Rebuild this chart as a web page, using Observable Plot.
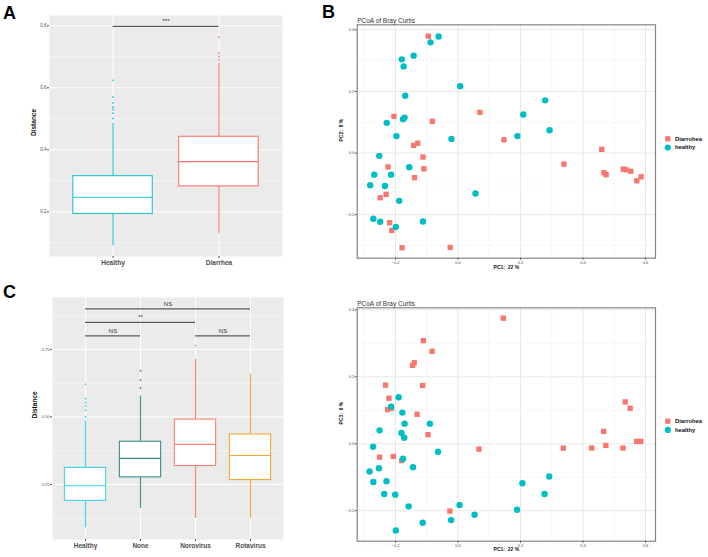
<!DOCTYPE html>
<html>
<head>
<meta charset="utf-8">
<script src="https://cdn.jsdelivr.net/npm/d3@7"></script>
<script src="https://cdn.jsdelivr.net/npm/@observablehq/plot@0.6"></script>
<style>
  html, body { margin: 0; padding: 0; background: #fff; }
  #fig { position: relative; width: 708px; height: 557px; background: #fff; overflow: hidden; font-family: "Liberation Sans", Arial, sans-serif; }
  .panel { position: absolute; }
  .tag { position: absolute; font-size: 18px; line-height: 18px; font-weight: bold; color: #000; }
</style>
</head>
<body>
<div id="fig">
  <div class="panel" id="pA" style="left:0;top:0"></div>
  <div class="panel" id="pB" style="left:330px;top:0"></div>
  <div class="panel" id="pC" style="left:0;top:280px"></div>
  <div class="panel" id="pD" style="left:330px;top:280px"></div>
  <div class="tag" style="left:3px;top:4px">A</div>
  <div class="tag" style="left:322px;top:3px">B</div>
  <div class="tag" style="left:3px;top:283px">C</div>
</div>
<script>
// ---------- Panel A : distance boxplots ----------
const aCategories = ["Healthy", "Diarrhea"];
const aColors = ["#1FC3CC", "#F8766D"];
const aLowerWhisker = [0.091, 0.129];
const aQ1 = [0.193, 0.282];
const aMedian = [0.247, 0.362];
const aQ3 = [0.315, 0.442];
const aUpperWhisker = [0.486, 0.679];
const aOutliersHealthy = [0.501, 0.518, 0.530, 0.538, 0.551, 0.570, 0.624];
const aOutliersDiarrhea = [0.690, 0.701, 0.712, 0.763];
const aYTicks = [0.2, 0.4, 0.6, 0.8];
const aYMinor = [0.1, 0.3, 0.5, 0.7];
const aYDomain = [0.056, 0.833];
const aBracketFrom = ["Healthy"];
const aBracketTo = ["Diarrhea"];
const aBracketLevel = [0.798];
const aBracketLabel = ["***"];

// ---------- Panel C : distance boxplots by virus ----------
const cCategories = ["Healthy", "None", "Norovirus", "Rotavirus"];
const cColors = ["#3CD2F5", "#3A8E8E", "#F7807A", "#F5A833"];
const cLowerWhisker = [0.089, 0.161, 0.124, 0.124];
const cQ1 = [0.189, 0.276, 0.318, 0.266];
const cMedian = [0.245, 0.346, 0.398, 0.357];
const cQ3 = [0.311, 0.408, 0.490, 0.435];
const cUpperWhisker = [0.485, 0.577, 0.713, 0.658];
const cOutliersHealthy = [0.500, 0.525, 0.540, 0.553, 0.568, 0.621];
const cOutliersNone = [0.607, 0.636, 0.671];
const cOutliersNorovirus = [0.764];
const cOutliersRotavirus = [];
const cYTicks = [0.25, 0.50, 0.75];
const cYMinor = [0.125, 0.375, 0.625, 0.875];
const cYDomain = [0.046, 0.942];
const cBracketFrom = ["Healthy", "Healthy", "Healthy", "Norovirus"];
const cBracketTo = ["Rotavirus", "Norovirus", "None", "Rotavirus"];
const cBracketLevel = [0.9, 0.85, 0.8, 0.8];
const cBracketLabel = ["NS", "**", "NS", "NS"];

// ---------- Panel B : PCoA PC1 vs PC2 ----------
const bDiarrheaPC1 = [-0.095,-0.205,-0.082,0.070,0.147,-0.142,-0.129,-0.112,-0.224,-0.109,-0.139,-0.230,-0.249,-0.219,-0.212,-0.179,-0.025,0.460,0.339,0.467,0.474,0.529,0.537,0.553,0.572,0.586];
const bDiarrheaPC2 = [0.379,0.119,0.103,0.132,0.043,0.025,0.032,-0.013,-0.045,-0.051,-0.080,-0.134,-0.145,-0.226,-0.251,-0.307,-0.306,0.012,-0.036,-0.064,-0.070,-0.052,-0.054,-0.059,-0.090,-0.077];
const bHealthyPC1 = [-0.062,-0.088,-0.142,-0.180,-0.174,0.007,-0.169,-0.171,-0.176,-0.228,-0.197,-0.021,-0.252,-0.156,-0.268,-0.214,-0.281,-0.234,-0.188,-0.271,-0.249,-0.199,-0.112,0.056,0.279,0.209,0.190,0.293];
const bHealthyPC2 = [0.378,0.359,0.316,0.304,0.281,0.217,0.186,0.115,0.110,0.098,0.055,0.046,-0.009,-0.046,-0.070,-0.070,-0.104,-0.107,-0.155,-0.213,-0.223,-0.240,-0.222,-0.131,0.171,0.125,0.055,0.074];
const bXDomain = [-0.3226, 0.632];
const bYDomain = [-0.341, 0.416];

// ---------- Panel D : PCoA PC1 vs PC3 ----------
const dDiarrheaPC1 = [0.145,-0.111,-0.083,-0.145,-0.140,-0.113,-0.232,-0.221,-0.225,-0.213,-0.131,-0.096,0.067,-0.251,-0.207,-0.180,-0.026,0.337,0.428,0.466,0.473,0.528,0.535,0.551,0.572,0.585];
const dDiarrheaPC3 = [0.375,0.308,0.276,0.234,0.242,0.174,0.175,0.136,0.102,0.106,0.088,0.027,-0.016,-0.040,-0.038,-0.050,-0.201,-0.013,-0.013,0.037,-0.005,-0.013,0.125,0.106,0.007,0.007];
const dHealthyPC1 = [-0.190,-0.214,-0.178,-0.171,-0.181,-0.172,-0.251,-0.272,-0.176,-0.144,-0.253,-0.283,-0.271,-0.229,-0.236,-0.201,-0.158,-0.199,-0.113,-0.022,0.005,0.053,-0.090,-0.064,0.189,0.206,0.277,0.292];
const dHealthyPC3 = [0.139,0.111,0.093,0.060,0.032,0.018,0.040,-0.009,-0.045,-0.070,-0.073,-0.083,-0.114,-0.112,-0.150,-0.152,-0.187,-0.259,-0.236,-0.228,-0.183,-0.212,0.060,-0.024,-0.197,-0.118,-0.150,-0.098];
const dXDomain = [-0.3226, 0.632];
const dYDomain = [-0.291, 0.406];

const pcoaXTicks = [-0.2, 0.0, 0.2, 0.4, 0.6];
const pcoaXMinor = [-0.3, -0.1, 0.1, 0.3, 0.5];
const pcoaYTicks = [-0.2, 0.0, 0.2, 0.4];
const pcoaYMinor = [-0.3, -0.1, 0.1, 0.3];
const groupLabels = ["Diarrohea", "healthy"];
const groupColors = ["#F8766D", "#00BFC4"];

const FONT = "Liberation Sans, Arial, Helvetica, sans-serif";
const fmt = d3.format(".1f");
const fmt2 = d3.format(".2f");

function boxPanel(o) {
  const n = o.cats.length;
  const half = 0.375;
  const boxes = o.cats.map((c, i) => ({pos: i + 1, lo: o.lo[i], q1: o.q1[i], med: o.med[i], q3: o.q3[i], hi: o.hi[i], color: o.colors[i]}));
  const outs = o.outliers.flatMap((arr, i) => arr.map(v => ({pos: i + 1, v, color: o.colors[i]})));
  const idx = c => o.cats.indexOf(c) + 1;
  const brackets = o.bFrom.map((f, i) => ({x1: idx(f), x2: idx(o.bTo[i]), y: o.bLevel[i], label: o.bLabel[i]}));
  return Plot.plot({
    width: o.width, height: o.height,
    marginLeft: o.ml, marginRight: o.mr, marginTop: o.mt, marginBottom: o.mb,
    style: {fontFamily: FONT, background: "transparent", overflow: "visible"},
    x: {domain: [0.4, n + 0.6], axis: null},
    y: {domain: o.yDomain, axis: null},
    color: {type: "identity"},
    marks: [
      Plot.frame({fill: "#EBEBEB", stroke: null}),
      Plot.ruleY(o.yMinor, {stroke: "white", strokeWidth: 0.5}),
      Plot.ruleY(o.yTicks, {stroke: "white", strokeWidth: 1}),
      Plot.ruleX(boxes, {x: "pos", stroke: "white", strokeWidth: 1}),
      Plot.ruleX(boxes, {x: "pos", y1: "lo", y2: "q1", stroke: "color", strokeWidth: 1.1}),
      Plot.ruleX(boxes, {x: "pos", y1: "q3", y2: "hi", stroke: "color", strokeWidth: 1.1}),
      Plot.rect(boxes, {x1: d => d.pos - half, x2: d => d.pos + half, y1: "q1", y2: "q3", fill: "white", stroke: "color", strokeWidth: 1.1}),
      Plot.ruleY(boxes, {x1: d => d.pos - half, x2: d => d.pos + half, y: "med", stroke: "color", strokeWidth: 1.2}),
      Plot.dot(outs, {x: "pos", y: "v", r: 0.9, fill: "color", stroke: null}),
      Plot.ruleY(brackets, {x1: "x1", x2: "x2", y: "y", stroke: "#5A5A5A", strokeWidth: 1.2}),
      Plot.text(brackets, {x: d => (d.x1 + d.x2) / 2, y: "y", text: "label", dy: o.labelDy, fontSize: 6, fill: "#333"}),
      Plot.axisY({ticks: o.yTicks, tickFormat: o.yFmt, tickSize: 2, tickPadding: 1, fontSize: o.yFont, color: "#4D4D4D", label: null}),
      Plot.axisX({ticks: d3.range(1, n + 1), tickFormat: d => o.cats[d - 1], tickSize: 2, tickPadding: 1.5, fontSize: 6.5, fontWeight: "bold", color: "#4D4D4D", label: null}),
      Plot.text(["Distance"], {frameAnchor: "left", dx: o.ylabDx, rotate: -90, text: d => d, fontSize: 6.5, fontWeight: "bold", fill: "#111"})
    ]
  });
}

function pcoaPanel(o) {
  const diar = o.dx.map((x, i) => ({x, y: o.dy[i]}));
  const heal = o.hx.map((x, i) => ({x, y: o.hy[i]}));
  return Plot.plot({
    width: o.width, height: o.height,
    marginLeft: o.ml, marginRight: o.mr, marginTop: o.mt, marginBottom: o.mb,
    style: {fontFamily: FONT, background: "transparent", overflow: "visible"},
    x: {domain: o.xDomain, axis: null},
    y: {domain: o.yDomain, axis: null},
    marks: [
      Plot.frame({fill: "white", stroke: null}),
      Plot.ruleX(pcoaXMinor, {stroke: "#EFEFEF", strokeWidth: 0.5}),
      Plot.ruleY(pcoaYMinor, {stroke: "#EFEFEF", strokeWidth: 0.5}),
      Plot.ruleX(pcoaXTicks, {stroke: "#E6E6E6", strokeWidth: 0.9}),
      Plot.ruleY(pcoaYTicks, {stroke: "#E6E6E6", strokeWidth: 0.9}),
      Plot.dot(diar, {x: "x", y: "y", symbol: "square", r: 3.0, fill: groupColors[0], stroke: null}),
      Plot.dot(heal, {x: "x", y: "y", symbol: "circle", r: 3.2, fill: groupColors[1], stroke: null}),
      Plot.frame({stroke: "#858585", strokeWidth: 1.2}),
      Plot.axisY({ticks: pcoaYTicks, tickFormat: fmt, tickSize: 2, tickPadding: 1, fontSize: 4, color: "#4D4D4D", label: null}),
      Plot.axisX({ticks: pcoaXTicks, tickFormat: fmt, tickSize: 2, tickPadding: 0.5, fontSize: 4, color: "#4D4D4D", label: null}),
      Plot.text(["PCoA of Bray Curtis"], {frameAnchor: "top-left", dy: o.titleDy, text: d => d, textAnchor: "start", fontSize: 6.5, fill: "#333"}),
      Plot.text([o.xLabel], {frameAnchor: "bottom", dy: o.xlabDy, text: d => d, fontSize: 5, fontWeight: "bold", fill: "#111"}),
      Plot.text([o.yLabel], {frameAnchor: "left", dx: -15.7, rotate: -90, text: d => d, fontSize: 5, fontWeight: "bold", fill: "#111"}),
      Plot.dot([groupLabels[0]], {frameAnchor: "right", dx: 12.3, dy: o.legDy, symbol: "square", r: 2.9, fill: groupColors[0], stroke: null}),
      Plot.dot([groupLabels[1]], {frameAnchor: "right", dx: 12.3, dy: o.legDy + 8.7, symbol: "circle", r: 3.1, fill: groupColors[1], stroke: null}),
      Plot.text([groupLabels[0]], {frameAnchor: "right", dx: 19.5, dy: o.legDy, text: d => d, textAnchor: "start", fontSize: 5.8, fontWeight: "bold", fill: "#111"}),
      Plot.text([groupLabels[1]], {frameAnchor: "right", dx: 19.5, dy: o.legDy + 8.7, text: d => d, textAnchor: "start", fontSize: 5.8, fontWeight: "bold", fill: "#111"})
    ]
  });
}

document.getElementById("pA").append(boxPanel({
  cats: aCategories, colors: aColors, lo: aLowerWhisker, q1: aQ1, med: aMedian, q3: aQ3, hi: aUpperWhisker,
  outliers: [aOutliersHealthy, aOutliersDiarrhea],
  yDomain: aYDomain, yTicks: aYTicks, yMinor: aYMinor, yFmt: fmt, yFont: 4.5,
  bFrom: aBracketFrom, bTo: aBracketTo, bLevel: aBracketLevel, bLabel: aBracketLabel, labelDy: -5,
  width: 290, height: 275, ml: 49, mr: 8, mt: 15, mb: 19, ylabDx: -15.5
}));

document.getElementById("pC").append(boxPanel({
  cats: cCategories, colors: cColors, lo: cLowerWhisker, q1: cQ1, med: cMedian, q3: cQ3, hi: cUpperWhisker,
  outliers: [cOutliersHealthy, cOutliersNone, cOutliersNorovirus, cOutliersRotavirus],
  yDomain: cYDomain, yTicks: cYTicks, yMinor: cYMinor, yFmt: fmt2, yFont: 4,
  bFrom: cBracketFrom, bTo: cBracketTo, bLevel: cBracketLevel, bLabel: cBracketLabel, labelDy: -5,
  width: 290, height: 277, ml: 52, mr: 7, mt: 17, mb: 18, ylabDx: -17.7
}));

document.getElementById("pB").append(pcoaPanel({
  dx: bDiarrheaPC1, dy: bDiarrheaPC2, hx: bHealthyPC1, hy: bHealthyPC2,
  xDomain: bXDomain, yDomain: bYDomain, xLabel: "PC1:  22 %", yLabel: "PC2:  8 %",
  width: 378, height: 280, ml: 26.7, mr: 53, mt: 24.3, mb: 22.3, titleDy: -6, xlabDy: 10.6, legDy: -2.7
}));

document.getElementById("pD").append(pcoaPanel({
  dx: dDiarrheaPC1, dy: dDiarrheaPC3, hx: dHealthyPC1, hy: dHealthyPC3,
  xDomain: dXDomain, yDomain: dYDomain, xLabel: "PC1:  22 %", yLabel: "PC3:  6 %",
  width: 378, height: 277, ml: 26.7, mr: 53, mt: 27.3, mb: 16.3, titleDy: -6.6, xlabDy: 10, legDy: -3.3
}));
</script>
</body>
</html>
